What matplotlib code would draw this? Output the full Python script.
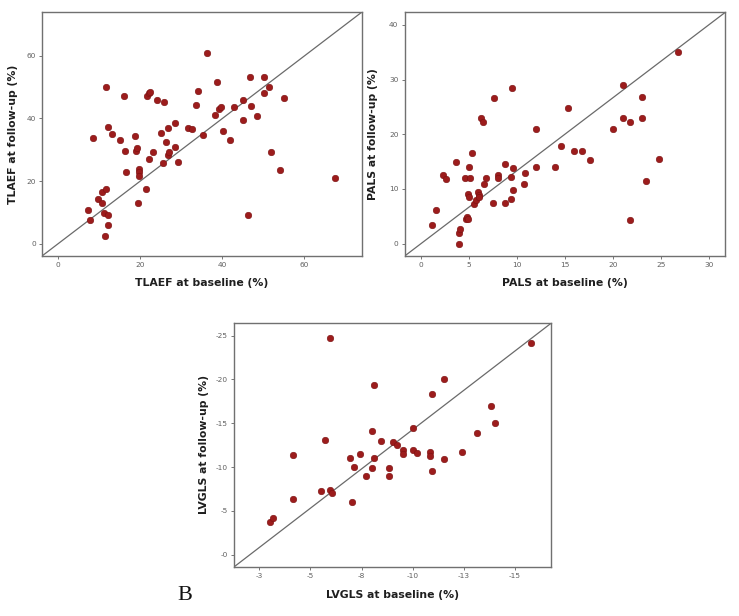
import matplotlib
matplotlib.use("Agg")
import matplotlib.pyplot as plt

# ---------------- data ----------------
tlaef_base = [7.25, 7.7, 8.6, 9.7, 10.7, 10.7, 11.1, 11.6, 11.7, 11.5, 12.1, 12.3, 12.2, 13.1,
              15.1, 16.1, 16.3, 16.5, 18.8, 19.0, 19.3, 19.5, 19.7, 19.8, 19.8, 21.4, 21.7,
              22.1, 22.5, 22.1, 23.1, 24.1, 25.8, 25.2, 25.6, 26.3, 26.7, 26.7, 27.1, 28.5,
              28.5, 29.2, 31.8, 32.7, 33.7, 34.2, 35.4, 36.3, 38.3, 38.8, 39.3, 39.8, 40.1,
              41.9, 42.9, 45.0, 45.0, 46.3, 46.9, 47.0, 48.6, 50.2, 50.2, 51.5, 52.0, 54.0,
              55.1, 67.5]
tlaef_follow = [10.8, 7.7, 33.9, 14.4, 16.6, 13.0, 9.9, 17.6, 50.1, 2.6, 9.2, 5.9, 37.2, 35.0,
                33.0, 47.2, 29.7, 22.9, 34.3, 29.7, 30.5, 13.1, 23.8, 22.8, 21.7, 17.4, 47.2,
                48.0, 48.4, 27.2, 29.4, 45.8, 45.2, 35.5, 25.7, 32.6, 37.0, 28.5, 29.4, 38.5,
                31.0, 26.0, 37.1, 36.7, 44.3, 48.9, 34.7, 60.9, 41.0, 51.5, 43.0, 43.7, 36.0,
                33.0, 43.7, 45.9, 39.5, 9.1, 53.1, 44.1, 40.9, 53.1, 48.0, 50.1, 29.4, 23.7,
                46.4, 21.1]

pals_base = [1.18, 1.6, 2.33, 2.64, 3.68, 4.0, 4.1, 4.0, 4.62, 4.72, 4.86, 4.93, 4.97, 5.0,
             5.0, 5.1, 5.3, 5.5, 5.76, 6.0, 6.08, 6.1, 6.3, 6.5, 6.6, 6.8, 7.5, 7.6, 8.0,
             8.05, 8.8, 8.8, 9.4, 9.44, 9.5, 9.6, 9.6, 10.7, 10.8, 12.0, 12.0, 14.0, 14.6,
             15.35, 16.0, 16.8, 17.6, 20.0, 21.0, 21.0, 21.8, 21.8, 23.0, 23.0, 23.4, 24.8,
             26.8]
pals_follow = [3.4, 6.2, 12.5, 11.8, 15.0, 2.0, 2.7, 0.0, 12.1, 4.6, 4.9, 4.6, 9.0, 8.6,
               14.1, 12.1, 16.6, 7.2, 8.0, 9.4, 8.9, 8.6, 23.0, 22.2, 11.0, 12.1, 7.5, 26.6,
               12.6, 12.1, 14.5, 7.4, 12.2, 8.2, 28.5, 13.8, 9.9, 10.9, 13.0, 21.0, 14.1,
               14.1, 17.8, 24.8, 17.0, 17.0, 15.3, 21.0, 29.0, 23.0, 22.3, 4.4, 26.8, 23.0,
               11.4, 15.5, 35.1]

lvgls_base = [-3.04, -3.15, -4.15, -4.15, -5.53, -5.73, -5.94, -5.96, -6.05, -6.93, -7.03,
              -7.13, -7.44, -7.73, -8.01, -8.02, -8.12, -8.12, -8.43, -8.82, -8.82, -9.03,
              -9.21, -9.52, -9.52, -10.03, -10.03, -10.22, -10.83, -10.83, -10.93, -10.93,
              -11.51, -11.51, -12.43, -13.13, -13.81, -14.02, -15.8]
lvgls_follow = [-3.73, -4.22, -6.32, -11.42, -7.27, -13.05, -24.7, -7.42, -7.0, -11.0, -6.01,
                -10.0, -11.53, -9.02, -9.9, -14.16, -11.0, -19.33, -12.94, -9.9, -9.02,
                -12.82, -12.56, -11.95, -11.53, -14.5, -11.95, -11.64, -11.72, -11.22, -9.51,
                -18.34, -20.05, -10.92, -11.72, -13.93, -16.93, -15.03, -24.12]

tlaef_ticks = [0, 20, 40, 60]
pals_xticks = [0, 5, 10, 15, 20, 25, 30]
pals_yticks = [0, 10, 20, 30, 40]
lvgls_xticks = [-2.5, -5, -7.5, -10, -12.5, -15]
lvgls_xticklabels = ["-3", "-5", "-8", "-10", "-13", "-15"]
lvgls_yticks = [0, -5, -10, -15, -20, -25]
lvgls_yticklabels = ["-0", "-5", "-10", "-15", "-20", "-25"]

# ---------------- style ----------------
W, H = 739, 616
fig = plt.figure(figsize=(W / 100, H / 100), dpi=100)
DOT = "#9c1c1c"
SPINE = "#707070"
LABEL_FONT = dict(fontsize=7.8, fontweight="bold", family="DejaVu Sans", color="#1e1e1e")


def make_ax(px_left, px_top, px_right, px_bottom):
    ax = fig.add_axes([px_left / W, 1 - px_bottom / H,
                       (px_right - px_left) / W, (px_bottom - px_top) / H])
    for s in ax.spines.values():
        s.set_color(SPINE)
        s.set_linewidth(1.0)
    ax.tick_params(axis="both", direction="out", length=2.5, width=0.6,
                   colors="#606060", labelsize=5.3, pad=2)
    ax.plot([0, 1], [0, 1], transform=ax.transAxes, color="#6a6a6a", lw=0.9, zorder=1)
    return ax


# Panel 1: TLAEF
ax1 = make_ax(42, 12, 362, 256)
ax1.scatter(tlaef_base, tlaef_follow, s=22, color=DOT, edgecolors="#7a1010",
            linewidths=0.4, zorder=3)
ax1.set_xlim(-3.9, 74.1)
ax1.set_ylim(-3.9, 74.0)
ax1.set_xticks(tlaef_ticks)
ax1.set_yticks(tlaef_ticks)
ax1.set_xlabel("TLAEF at baseline (%)", **LABEL_FONT)
ax1.set_ylabel("TLAEF at follow-up (%)", **LABEL_FONT)
ax1.xaxis.set_label_coords(0.5, -(278.5 - 256) / 244)
ax1.yaxis.set_label_coords(-(42 - 18) / 320, 0.5)

# Panel 2: PALS
ax2 = make_ax(404.7, 12.3, 725.3, 256)
ax2.scatter(pals_base, pals_follow, s=22, color=DOT, edgecolors="#7a1010",
            linewidths=0.4, zorder=3)
ax2.set_xlim(-1.67, 31.7)
ax2.set_ylim(-2.25, 42.3)
ax2.set_xticks(pals_xticks)
ax2.set_yticks(pals_yticks)
ax2.set_xlabel("PALS at baseline (%)", **LABEL_FONT)
ax2.set_ylabel("PALS at follow-up (%)", **LABEL_FONT)
ax2.xaxis.set_label_coords(0.5, -(278.5 - 256) / 243.7)
ax2.yaxis.set_label_coords(-(404.7 - 378) / 320.6, 0.5)

# Panel 3: LVGLS
ax3 = make_ax(234.3, 323.3, 551, 566.7)
ax3.scatter(lvgls_base, lvgls_follow, s=22, color=DOT, edgecolors="#7a1010",
            linewidths=0.4, zorder=3)
ax3.set_xlim(-1.28, -16.76)
ax3.set_ylim(1.37, -26.4)
ax3.set_xticks(lvgls_xticks)
ax3.set_xticklabels(lvgls_xticklabels)
ax3.set_yticks(lvgls_yticks)
ax3.set_yticklabels(lvgls_yticklabels)
ax3.set_xlabel("LVGLS at baseline (%)", **LABEL_FONT)
ax3.set_ylabel("LVGLS at follow-up (%)", **LABEL_FONT)
ax3.xaxis.set_label_coords(0.5, -(590 - 566.7) / 243.4)
ax3.yaxis.set_label_coords(-(234.3 - 209) / 316.7, 0.5)

fig.text(177 / W, 1 - 596 / H, "B", fontsize=16, family="Liberation Serif",
         va="center", ha="left", color="#111111")

fig.savefig("out.png", dpi=100, facecolor="white")
